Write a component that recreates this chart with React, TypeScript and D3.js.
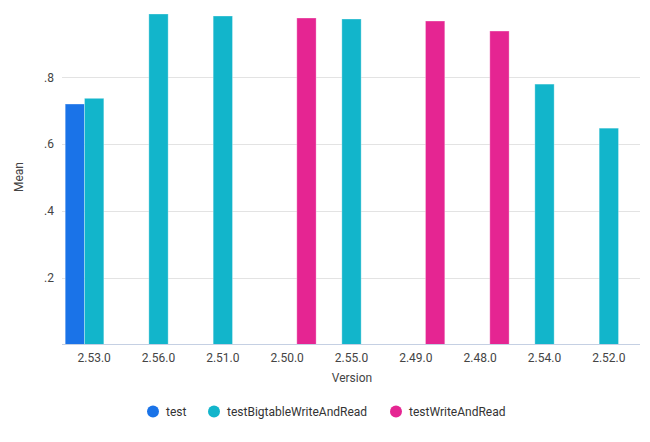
import React from "react";
import * as d3 from "d3";

const categories = ["2.53.0", "2.56.0", "2.51.0", "2.50.0", "2.55.0", "2.49.0", "2.48.0", "2.54.0", "2.52.0"];
const seriesNames = ["test", "testBigtableWriteAndRead", "testWriteAndRead"];
const testValues: (number | null)[] = [0.72, null, null, null, null, null, null, null, null];
const bigtableValues: (number | null)[] = [0.737, 0.9895, 0.9835, null, 0.9745, null, null, 0.7796, 0.6477];
const writeReadValues: (number | null)[] = [null, null, null, 0.9775, null, 0.9685, 0.9385, null, null];
const yTicks = [0.2, 0.4, 0.6, 0.8];
const yTickLabels = [".2", ".4", ".6", ".8"];
const colors = ["#1a73e8", "#12b5cb", "#e52592"];

export default function App() {
  const W = 650, H = 442;
  const left = 62, right = 641, top = 10.5, bottom = 344.5;
  const x = d3.scaleBand<string>().domain(categories).range([left, right]).paddingInner(0.1).paddingOuter(0.05);
  const xs = d3.scaleBand<string>().domain(seriesNames).range([0, x.bandwidth()]);
  const y = d3.scaleLinear().domain([0, 1]).range([bottom, top]);
  const all = [testValues, bigtableValues, writeReadValues];
  const font = "Roboto, 'Noto Sans', sans-serif";
  const legendX = [153, 214, 396];
  return (
    <svg width={W} height={H} style={{ position: "absolute", left: 0, top: 0, fontFamily: font }}>
      <rect width={W} height={H} fill="#fff" />
      {yTicks.map((t, i) => (
        <g key={t}>
          <line x1={left} x2={640} y1={Math.round(y(t)) + 0.5} y2={Math.round(y(t)) + 0.5} stroke="#e3e3e3" />
          <text x={54} y={y(t)} dy="0.35em" textAnchor="end" fontSize={12} fill="#444">{yTickLabels[i]}</text>
        </g>
      ))}
      {all.map((vals, si) =>
        vals.map((v, ci) =>
          v == null ? null : (
            <rect
              key={si + "-" + ci}
              x={(x(categories[ci]) as number) + (xs(seriesNames[si]) as number)}
              y={y(v)}
              width={xs.bandwidth()}
              height={y(0) - y(v)}
              fill={colors[si]}
              stroke="#fff"
              strokeOpacity={0.3}
              strokeWidth={1}
            />
          )
        )
      )}
      <line x1={left} x2={640} y1={bottom} y2={bottom} stroke="#c5d0e3" />
      {categories.map((c) => (
        <text key={c} x={(x(c) as number) + x.bandwidth() / 2} y={362} textAnchor="middle" fontSize={12} fill="#444">{c}</text>
      ))}
      <text x={352} y={382} textAnchor="middle" fontSize={12} fill="#444">Version</text>
      <text transform={`translate(23,177) rotate(-90)`} textAnchor="middle" fontSize={12} fill="#444">Mean</text>
      {seriesNames.map((s, i) => (
        <g key={s}>
          <circle cx={legendX[i]} cy={411.5} r={6} fill={colors[i]} />
          <text x={legendX[i] + 13} y={411.5} dy="0.35em" fontSize={12} fill="#333">{s}</text>
        </g>
      ))}
    </svg>
  );
}
